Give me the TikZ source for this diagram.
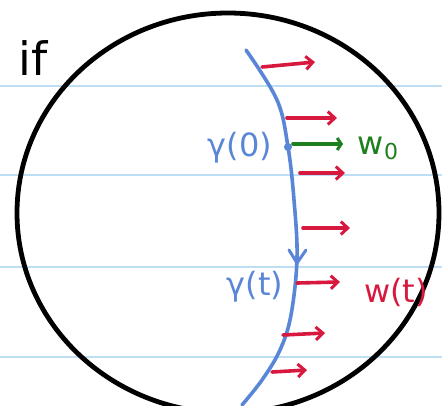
\documentclass[tikz,border=0pt]{standalone}
\usepackage{fontspec}
\newfontfamily\hand{DejaVu Sans}
\usetikzlibrary{arrows.meta}
\definecolor{rule}{HTML}{BEDFF3}
\definecolor{cblue}{HTML}{5A86D8}
\definecolor{cred}{HTML}{D8193F}
\definecolor{cgreen}{HTML}{1E7F1E}
\tikzset{
  vec/.style={cred, line width=3.6pt, line cap=round, -{Straight Barb[length=7pt,width=13pt,line width=3pt]}},
  gvec/.style={cgreen, line width=3.6pt, line cap=round, -{Straight Barb[length=4pt,width=12pt,line width=3pt]}},
  lbl/.style={font=\hand\fontsize{32}{34}\selectfont, inner sep=0pt},
}
\begin{document}
\begin{tikzpicture}[x=1pt,y=-1pt]
\useasboundingbox (0,0) rectangle (442,405);
\clip (0,0) rectangle (442,405);
\fill[white] (0,0) rectangle (442,405);
% ruled lines
\foreach \yy in {86,175,267,357} \draw[rule, line width=1.2pt] (0,\yy) -- (442,\yy);
% circle
\draw[black, line width=4.8pt] (228,213) ellipse [x radius=211, y radius=200];
% "if"
\node[lbl, font=\hand\fontsize{46}{48}\selectfont] (if) at (33,58) {if};
% curve
\draw[cblue, line width=3.6pt, line cap=round] plot[smooth, tension=0.6] coordinates {(246,50) (277,100) (288,147) (294,200) (297,258) (291,315) (280,350) (262,380) (242,405)};
\draw[cblue, line width=3pt, line cap=round, line join=round] (289,250) -- (297,263) -- (306,250);
\fill[cblue] (288,147) circle (4pt);
% coordinates for arrows
\coordinate (a1) at (262,67); \coordinate (b1) at (315,62);
\coordinate (a2) at (287,118); \coordinate (b2) at (337,118);
\coordinate (a3) at (300,173); \coordinate (b3) at (345,173);
\coordinate (a4) at (303,228); \coordinate (b4) at (350,228);
\coordinate (a5) at (297,283); \coordinate (b5) at (340,282);
\coordinate (a6) at (283,335); \coordinate (b6) at (325,333);
\coordinate (a7) at (272,372); \coordinate (b7) at (307,370);
\coordinate (g0) at (293,144); \coordinate (g1) at (343,144);
\foreach \i in {1,...,7} \draw[vec] (a\i) -- (b\i);
\draw[gvec] (g0) -- (g1);
% labels
\node[lbl, cblue] (gam0) at (240,148) {γ(0)};
\node[lbl, cblue] (gamt) at (255,287) {γ(t)};
\node[lbl, cgreen] (w0) at (378,148) {w\raisebox{-5pt}{\fontsize{22}{22}\selectfont 0}};
\node[lbl, cred] (wt) at (396,292) {w(t)};
\end{tikzpicture}
\end{document}
